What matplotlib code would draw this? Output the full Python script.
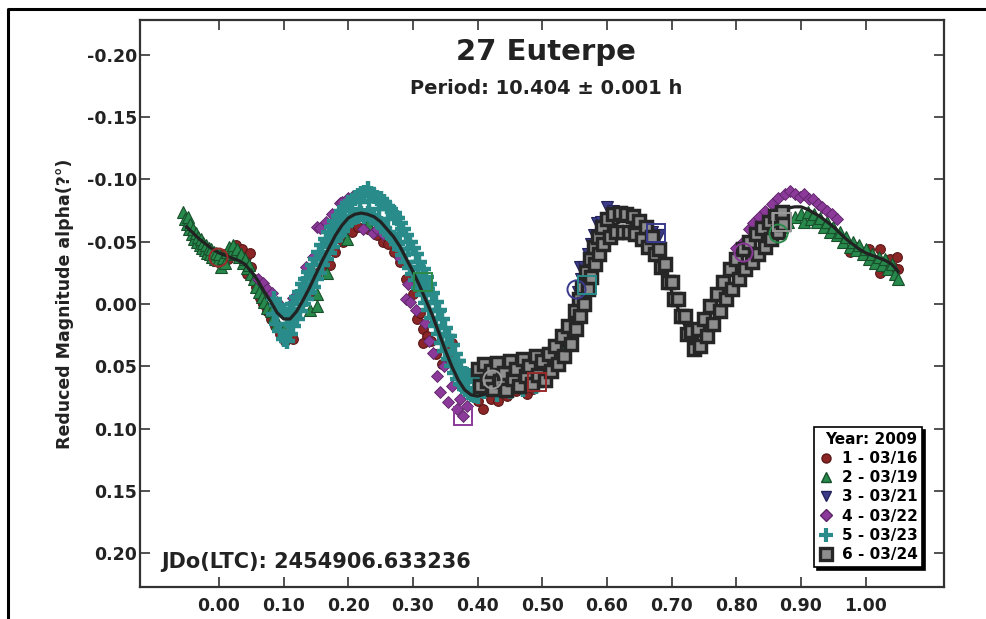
import matplotlib
matplotlib.use('Agg')
import matplotlib.pyplot as plt
from matplotlib.lines import Line2D

plt.rcParams['font.family'] = ['DejaVu Sans']
plt.rcParams['font.weight'] = 'bold'
plt.rcParams['axes.unicode_minus'] = False

# --- data (phase, reduced magnitude) ---
title = '27 Euterpe'
subtitle = 'Period: 10.404 ± 0.001 h'
jdo_text = 'JDo(LTC): 2454906.633236'
session_labels = ['1 - 03/16', '2 - 03/19', '3 - 03/21', '4 - 03/22', '5 - 03/23', '6 - 03/24']
x_ticks = [0.0, 0.1, 0.2, 0.3, 0.4, 0.5, 0.6, 0.7, 0.8, 0.9, 1.0]
y_ticks = [-0.20, -0.15, -0.10, -0.05, 0.00, 0.05, 0.10, 0.15, 0.20]

# session 1 - 03/16 (red circles)
s1_phase = [-0.020, -0.012, -0.005, 0.002, 0.008, 0.014, 0.020, 0.026, 0.030, 0.036, 0.042, 0.043,
            0.048, 0.050, 0.054, 0.058, 0.063, 0.068, 0.074, 0.080, 0.086, 0.094, 0.102, 0.108, 0.115,
            0.140, 0.151, 0.160, 0.167, 0.172, 0.180, 0.192, 0.205, 0.215, 0.230, 0.245, 0.254, 0.262,
            0.270, 0.280, 0.290, 0.300, 0.306, 0.311, 0.316, 0.321, 0.316, 0.328, 0.336, 0.345, 0.352,
            0.360, 0.362, 0.370, 0.380, 0.393, 0.400, 0.409, 0.420, 0.432, 0.445, 0.460, 0.476, 0.485,
            0.975, 0.985, 0.995, 1.005, 1.012, 1.022, 1.022, 1.028, 1.032, 1.038, 1.042, 1.048, 1.050]
s1_mag = [-0.042, -0.040, -0.036, -0.033, -0.040, -0.036, -0.043, -0.047, -0.041, -0.044, -0.038, -0.024,
          -0.041, -0.030, -0.020, -0.014, -0.005, 0.000, 0.006, 0.012, 0.018, 0.024, 0.030, 0.026, 0.028,
          -0.008, -0.025, -0.028, -0.033, -0.031, -0.042, -0.050, -0.058, -0.062, -0.060, -0.055, -0.050, -0.048,
          -0.042, -0.034, -0.020, -0.008, 0.012, 0.007, 0.020, 0.026, 0.031, 0.030, 0.040, 0.048, 0.036,
          0.031, 0.044, 0.056, 0.062, 0.055, 0.078, 0.084, 0.076, 0.078, 0.074, 0.070, 0.072, 0.068,
          -0.042, -0.046, -0.040, -0.044, -0.036, -0.044, -0.025, -0.032, -0.028, -0.036, -0.030, -0.038, -0.028]

# session 2 - 03/19 (green triangles)
s2_phase = [-0.055, -0.052, -0.050, -0.048, -0.046, -0.044, -0.042, -0.040, -0.038, -0.036, -0.034, -0.032,
            -0.030, -0.028, -0.026, -0.024, -0.022, -0.020, -0.018, -0.016, -0.014, -0.012, -0.010, -0.008,
            -0.006, -0.004, -0.002, 0.000, 0.003, 0.006, 0.010, 0.013, 0.016, 0.019, 0.022, 0.025, 0.028,
            0.031, 0.034, 0.037, 0.040, 0.043, 0.046, 0.050, 0.054, 0.058, 0.062, 0.066, 0.070, 0.075,
            0.080, 0.085, 0.090, 0.094, 0.100, 0.141, 0.151, 0.151, 0.167, 0.198, 0.230,
            0.870, 0.880, 0.890, 0.900, 0.905, 0.910, 0.915, 0.920, 0.925, 0.930, 0.935, 0.940, 0.945,
            0.950, 0.955, 0.960, 0.965, 0.970, 0.975, 0.980, 0.985, 0.990, 0.995, 1.000, 1.005, 1.010,
            1.015, 1.020, 1.025, 1.030, 1.035, 1.040, 1.045, 1.050]
s2_mag = [-0.074, -0.068, -0.064, -0.070, -0.060, -0.064, -0.056, -0.060, -0.052, -0.057, -0.050, -0.054,
          -0.047, -0.052, -0.045, -0.049, -0.043, -0.047, -0.041, -0.045, -0.040, -0.044, -0.038, -0.042,
          -0.036, -0.041, -0.035, -0.040, -0.030, -0.037, -0.033, -0.042, -0.046, -0.040, -0.047, -0.041, -0.044,
          -0.038, -0.040, -0.033, -0.036, -0.029, -0.031, -0.024, -0.020, -0.014, -0.010, -0.006, -0.002, 0.003,
          0.006, 0.010, 0.015, 0.000, 0.020, 0.005, -0.008, 0.002, -0.025, -0.052, -0.064,
          -0.062, -0.066, -0.070, -0.072, -0.066, -0.074, -0.068, -0.072, -0.066, -0.069, -0.062, -0.066, -0.058,
          -0.062, -0.055, -0.058, -0.050, -0.054, -0.046, -0.050, -0.043, -0.047, -0.040, -0.044, -0.036, -0.040,
          -0.033, -0.038, -0.031, -0.036, -0.028, -0.032, -0.024, -0.020]

# session 3 - 03/21 (navy down triangles)
s3_phase = [0.555, 0.558, 0.560, 0.565, 0.570, 0.575, 0.580, 0.584, 0.590, 0.594, 0.600, 0.610,
            0.620, 0.630, 0.640, 0.650, 0.660, 0.670, 0.676, 0.680]
s3_mag = [-0.010, -0.030, -0.020, -0.030, -0.040, -0.048, -0.055, -0.065, -0.066, -0.057, -0.078, -0.075,
          -0.074, -0.072, -0.070, -0.066, -0.062, -0.058, -0.055, -0.055]

# session 4 - 03/22 (purple diamonds)
s4_phase = [0.060, 0.068, 0.075, 0.082, 0.090, 0.099, 0.114, 0.128, 0.135, 0.146, 0.151, 0.156, 0.165,
            0.175, 0.187, 0.190, 0.200, 0.208, 0.223, 0.238, 0.245, 0.254, 0.280, 0.290, 0.292, 0.295,
            0.305, 0.319, 0.325, 0.331, 0.337, 0.342, 0.348, 0.354, 0.360, 0.368, 0.372, 0.377, 0.383,
            0.800, 0.810, 0.820, 0.826, 0.835, 0.845, 0.855, 0.865, 0.875, 0.883, 0.890, 0.898, 0.905,
            0.912, 0.919, 0.926, 0.933, 0.940, 0.948, 0.955]
s4_mag = [-0.020, -0.017, -0.012, -0.009, -0.002, 0.006, -0.005, -0.010, -0.030, -0.038, -0.062, -0.061, -0.066,
          -0.072, -0.081, -0.082, -0.085, -0.087, -0.060, -0.057, -0.060, -0.056, -0.037, -0.004, -0.016, -0.002,
          0.005, 0.015, 0.030, 0.039, 0.058, 0.071, 0.050, 0.079, 0.066, 0.084, 0.076, 0.090, 0.082,
          -0.045, -0.050, -0.060, -0.065, -0.070, -0.075, -0.080, -0.085, -0.088, -0.091, -0.088, -0.086, -0.088,
          -0.084, -0.084, -0.080, -0.078, -0.075, -0.072, -0.068]

# session 5 - 03/23 (teal crosses)
s5_phase = [0.085, 0.085, 0.090, 0.090, 0.095, 0.095, 0.100, 0.100, 0.105, 0.105, 0.110, 0.110,
            0.115, 0.115, 0.120, 0.120, 0.125, 0.125, 0.130, 0.130, 0.135, 0.135, 0.140, 0.140,
            0.145, 0.145, 0.150, 0.150, 0.155, 0.155, 0.160, 0.160, 0.165, 0.165, 0.170, 0.170,
            0.175, 0.175, 0.180, 0.180, 0.185, 0.185, 0.190, 0.190, 0.195, 0.195, 0.200, 0.200,
            0.205, 0.205, 0.210, 0.210, 0.215, 0.215, 0.220, 0.220, 0.225, 0.225, 0.230, 0.230,
            0.235, 0.235, 0.240, 0.240, 0.245, 0.245, 0.250, 0.250, 0.255, 0.255, 0.260, 0.260,
            0.265, 0.265, 0.270, 0.270, 0.275, 0.275, 0.280, 0.280, 0.285, 0.285, 0.290, 0.290,
            0.295, 0.295, 0.300, 0.300, 0.305, 0.305, 0.310, 0.310, 0.315, 0.315, 0.320, 0.320,
            0.325, 0.325, 0.330, 0.330, 0.335, 0.335, 0.340, 0.340, 0.345, 0.345, 0.350, 0.350,
            0.355, 0.355, 0.360, 0.360, 0.365, 0.365, 0.370, 0.370, 0.375, 0.375, 0.380, 0.380,
            0.385, 0.385, 0.390, 0.390, 0.395, 0.395, 0.400, 0.400,
            0.410, 0.420, 0.430, 0.440, 0.450, 0.460, 0.470, 0.480, 0.490, 0.500, 0.510, 0.520,
            0.530, 0.540, 0.545, 0.550, 0.555, 0.560, 0.565,
            0.112, 0.128, 0.143, 0.158, 0.172, 0.188, 0.202, 0.218, 0.232, 0.248, 0.262, 0.278,
            0.292, 0.308, 0.322, 0.338, 0.352, 0.368]
s5_mag = [-0.004, 0.008, 0.001, 0.016, 0.004, 0.022, 0.006, 0.028, 0.009, 0.030, 0.004, 0.024,
          0.000, 0.018, -0.006, 0.012, -0.010, 0.006, -0.016, 0.000, -0.020, -0.004, -0.026, -0.010,
          -0.031, -0.014, -0.036, -0.020, -0.042, -0.025, -0.047, -0.031, -0.052, -0.036, -0.058, -0.041,
          -0.062, -0.046, -0.067, -0.051, -0.071, -0.055, -0.075, -0.059, -0.078, -0.063, -0.081, -0.066,
          -0.083, -0.068, -0.085, -0.070, -0.087, -0.071, -0.088, -0.072, -0.089, -0.071, -0.092, -0.072,
          -0.088, -0.070, -0.087, -0.069, -0.085, -0.067, -0.084, -0.064, -0.082, -0.061, -0.079, -0.058,
          -0.076, -0.055, -0.073, -0.052, -0.069, -0.048, -0.065, -0.044, -0.060, -0.039, -0.055, -0.034,
          -0.050, -0.029, -0.045, -0.024, -0.040, -0.019, -0.034, -0.013, -0.028, -0.007, -0.022, -0.001,
          -0.016, 0.005, -0.009, 0.011, -0.002, 0.018, 0.005, 0.024, 0.012, 0.031, 0.019, 0.038,
          0.026, 0.044, 0.033, 0.050, 0.040, 0.055, 0.046, 0.060, 0.052, 0.064, 0.056, 0.068,
          0.059, 0.071, 0.058, 0.072, 0.060, 0.073, 0.059, 0.074,
          0.070, 0.066, 0.072, 0.065, 0.070, 0.062, 0.068, 0.060, 0.066, 0.058, 0.055, 0.050,
          0.045, 0.035, 0.025, 0.015, 0.005, -0.003, -0.010,
          0.016, -0.005, -0.020, -0.036, -0.050, -0.066, -0.076, -0.082, -0.083, -0.076, -0.068, -0.056,
          -0.044, -0.030, -0.012, 0.006, 0.026, 0.046]

# session 6 - 03/24 (grey squares)
s6_phase = [0.400, 0.404, 0.410, 0.414, 0.420, 0.424, 0.430, 0.434, 0.440, 0.444, 0.450, 0.454,
            0.460, 0.464, 0.470, 0.474, 0.480, 0.484, 0.490, 0.494, 0.500, 0.504, 0.510, 0.514,
            0.520, 0.524, 0.530, 0.534, 0.540, 0.544, 0.550, 0.552, 0.556, 0.558, 0.562, 0.564,
            0.568, 0.570, 0.574, 0.576, 0.580, 0.582, 0.586, 0.588, 0.592, 0.594, 0.600, 0.604,
            0.610, 0.614, 0.620, 0.624, 0.630, 0.634, 0.640, 0.644, 0.650, 0.654, 0.660, 0.664,
            0.670, 0.674, 0.680, 0.684, 0.690, 0.694, 0.700, 0.704, 0.710, 0.714, 0.720, 0.724,
            0.730, 0.734, 0.740, 0.744, 0.750, 0.754, 0.760, 0.764, 0.770, 0.774, 0.780, 0.784,
            0.790, 0.794, 0.800, 0.804, 0.810, 0.814, 0.820, 0.824, 0.830, 0.834, 0.840, 0.844,
            0.850, 0.854, 0.860, 0.864, 0.870, 0.872]
s6_mag = [0.052, 0.066, 0.048, 0.062, 0.054, 0.068, 0.047, 0.062, 0.055, 0.069, 0.046, 0.060,
          0.052, 0.066, 0.044, 0.058, 0.050, 0.064, 0.042, 0.057, 0.046, 0.061, 0.040, 0.054,
          0.034, 0.048, 0.026, 0.042, 0.018, 0.032, 0.006, 0.020, -0.004, 0.010, -0.014, 0.000,
          -0.026, -0.012, -0.036, -0.022, -0.046, -0.032, -0.054, -0.040, -0.062, -0.048, -0.068, -0.054,
          -0.072, -0.058, -0.073, -0.058, -0.072, -0.058, -0.071, -0.056, -0.067, -0.052, -0.062, -0.046,
          -0.054, -0.040, -0.044, -0.030, -0.032, -0.018, -0.018, -0.004, -0.004, 0.010, 0.010, 0.024,
          0.022, 0.036, 0.020, 0.034, 0.012, 0.026, 0.002, 0.016, -0.008, 0.006, -0.018, -0.004,
          -0.028, -0.012, -0.036, -0.020, -0.044, -0.028, -0.050, -0.034, -0.056, -0.040, -0.061, -0.046,
          -0.066, -0.052, -0.071, -0.058, -0.074, -0.064]

# fourier fit curve
fit_phase = [-0.05, -0.04, -0.03, -0.02, -0.01, 0.00, 0.01, 0.02, 0.03, 0.04, 0.05, 0.06, 0.07, 0.08,
             0.09, 0.10, 0.11, 0.12, 0.13, 0.14, 0.15, 0.16, 0.17, 0.18, 0.19, 0.20, 0.21, 0.22, 0.23,
             0.24, 0.25, 0.26, 0.27, 0.28, 0.29, 0.30, 0.31, 0.32, 0.33, 0.34, 0.35, 0.36, 0.37, 0.38,
             0.39, 0.40, 0.42, 0.44, 0.46, 0.48, 0.50, 0.51, 0.52, 0.53, 0.54, 0.55, 0.56, 0.57, 0.58,
             0.59, 0.60, 0.61, 0.62, 0.63, 0.64, 0.65, 0.66, 0.67, 0.68, 0.69, 0.70, 0.71, 0.72, 0.73,
             0.74, 0.75, 0.76, 0.77, 0.78, 0.79, 0.80, 0.81, 0.82, 0.83, 0.84, 0.85, 0.86, 0.87, 0.88,
             0.89, 0.90, 0.91, 0.92, 0.93, 0.94, 0.95, 0.96, 0.97, 0.98, 0.99, 1.00, 1.01, 1.02, 1.03,
             1.04, 1.05]
fit_mag = [-0.062, -0.057, -0.052, -0.048, -0.044, -0.041, -0.039, -0.037, -0.035, -0.032, -0.026, -0.019,
           -0.010, -0.002, 0.007, 0.012, 0.012, 0.006, -0.003, -0.013, -0.024, -0.035, -0.045, -0.055,
           -0.063, -0.069, -0.072, -0.073, -0.072, -0.070, -0.066, -0.060, -0.054, -0.046, -0.036, -0.026,
           -0.015, -0.003, 0.009, 0.023, 0.037, 0.050, 0.061, 0.069, 0.073, 0.074, 0.071, 0.066, 0.062,
           0.058, 0.053, 0.049, 0.043, 0.035, 0.025, 0.012, -0.003, -0.020, -0.036, -0.049, -0.058,
           -0.063, -0.066, -0.066, -0.064, -0.060, -0.054, -0.046, -0.036, -0.024, -0.010, 0.004, 0.017,
           0.026, 0.027, 0.020, 0.009, -0.002, -0.013, -0.023, -0.033, -0.042, -0.050, -0.057, -0.063,
           -0.068, -0.072, -0.075, -0.077, -0.078, -0.078, -0.076, -0.073, -0.070, -0.066, -0.062, -0.057,
           -0.052, -0.048, -0.044, -0.041, -0.039, -0.037, -0.035, -0.032, -0.026]

# large open markers (session index, shape)
ring_phase = [-0.002, 0.316, 0.378, 0.422, 0.491, 0.552, 0.569, 0.676, 0.810, 0.864, 0.870]
ring_mag = [-0.038, -0.018, 0.090, 0.060, 0.063, -0.012, -0.015, -0.057, -0.042, -0.057, -0.066]
ring_session = [0, 1, 3, 5, 0, 2, 4, 2, 3, 1, 5]
ring_shape = ['o', 's', 's', 'o', 's', 'o', 's', 's', 'o', 'o', 's']

# --- styles ---
face = ['#8c2626', '#27894b', '#3b3b8a', '#8b3a99', '#2a8b8b', '#8e8e8e']
edge = ['#5a1717', '#17502b', '#22225a', '#5c2366', '#2a8b8b', '#262626']
ring_col = ['#9a2a2a', '#2a8a4a', '#3a3a8c', '#8b3a99', '#2a8b8b', '#9a9a9a']

fig = plt.figure(figsize=(9.87, 6.19), dpi=100)
ax = fig.add_axes([140/987, 1-587/619, 804/987, 567/619])

ax.plot(s1_phase, s1_mag, 'o', ms=7, mfc=face[0], mec=edge[0], mew=0.8, zorder=2)
ax.plot(s2_phase, s2_mag, '^', ms=8, mfc=face[1], mec=edge[1], mew=0.8, zorder=3)
ax.plot(s4_phase, s4_mag, 'D', ms=6.5, mfc=face[3], mec=edge[3], mew=0.6, zorder=4)
ax.plot(s5_phase, s5_mag, '+', ms=11, color=face[4], mew=3.2, zorder=5)
ax.plot(s3_phase, s3_mag, 'v', ms=8, mfc=face[2], mec=edge[2], mew=0.8, zorder=5)
ax.plot(fit_phase, fit_mag, '-', color='#222222', lw=2.3, zorder=6)
ax.plot(s6_phase, s6_mag, 's', ms=8.5, mfc=face[5], mec=edge[5], mew=2.5, zorder=7)

for px, py, si, sh in zip(ring_phase, ring_mag, ring_session, ring_shape):
    ax.plot(px, py, sh, ms=13, mfc='none', mec=ring_col[si], mew=1.4, zorder=8)

ax.set_xlim(-0.122, 1.121)
ax.set_ylim(0.2272, -0.228)
ax.set_xticks(x_ticks)
ax.set_xticklabels(['%.2f' % t for t in x_ticks])
ax.set_yticks(y_ticks)
ax.set_yticklabels(['%.2f' % t for t in y_ticks])
ax.tick_params(axis='both', direction='in', length=7, width=1.2, color='#333333',
               labelsize=12.5, labelcolor='#222222', top=True, right=True)
ax.tick_params(axis='x', pad=7)
ax.tick_params(axis='y', pad=2)
for sp in ax.spines.values():
    sp.set_linewidth(1.6)
    sp.set_color('#333333')

ax.set_ylabel('Reduced Magnitude alpha(?°)', fontsize=12.5, fontweight='bold', color='#222222')
ax.yaxis.set_label_coords(-0.082, 0.5)

fig.text(546/987, 1-52/619, title, ha='center', va='center', fontsize=21, fontweight='bold', color='#222222')
fig.text(546/987, 1-88/619, subtitle, ha='center', va='center', fontsize=14, fontweight='bold', color='#222222')
ax.text(0.026, 0.044, jdo_text, transform=ax.transAxes, ha='left', va='center',
        fontsize=15, fontweight='bold', color='#222222')

handles = [
    Line2D([], [], ls='none', marker='o', ms=6.5, mfc=face[0], mec=edge[0]),
    Line2D([], [], ls='none', marker='^', ms=7.5, mfc=face[1], mec=edge[1]),
    Line2D([], [], ls='none', marker='v', ms=7.5, mfc=face[2], mec=edge[2]),
    Line2D([], [], ls='none', marker='D', ms=6, mfc=face[3], mec=edge[3]),
    Line2D([], [], ls='none', marker='+', ms=10, color=face[4], mew=3),
    Line2D([], [], ls='none', marker='s', ms=8, mfc=face[5], mec=edge[5], mew=2.4),
]
leg = ax.legend(handles, session_labels, title='Year: 2009', loc='upper right',
                bbox_to_anchor=(922/987, 1-427/619), bbox_transform=fig.transFigure,
                borderaxespad=0, fancybox=False, framealpha=1, edgecolor='black',
                shadow={'color': 'black', 'alpha': 1}, alignment='right',
                prop={'size': 11, 'weight': 'bold'}, title_fontproperties={'size': 11, 'weight': 'bold'},
                handlelength=1.0, handletextpad=0.5, labelspacing=0.28, borderpad=0.3)
leg.get_frame().set_linewidth(1.2)
leg.set_zorder(20)

# outer frame of the image
fig.add_artist(Line2D([8/987, 8/987, 1.0], [0.0, 1-9/619, 1-9/619], transform=fig.transFigure,
                      color='black', lw=2.2))

fig.savefig('out.png', dpi=100)
